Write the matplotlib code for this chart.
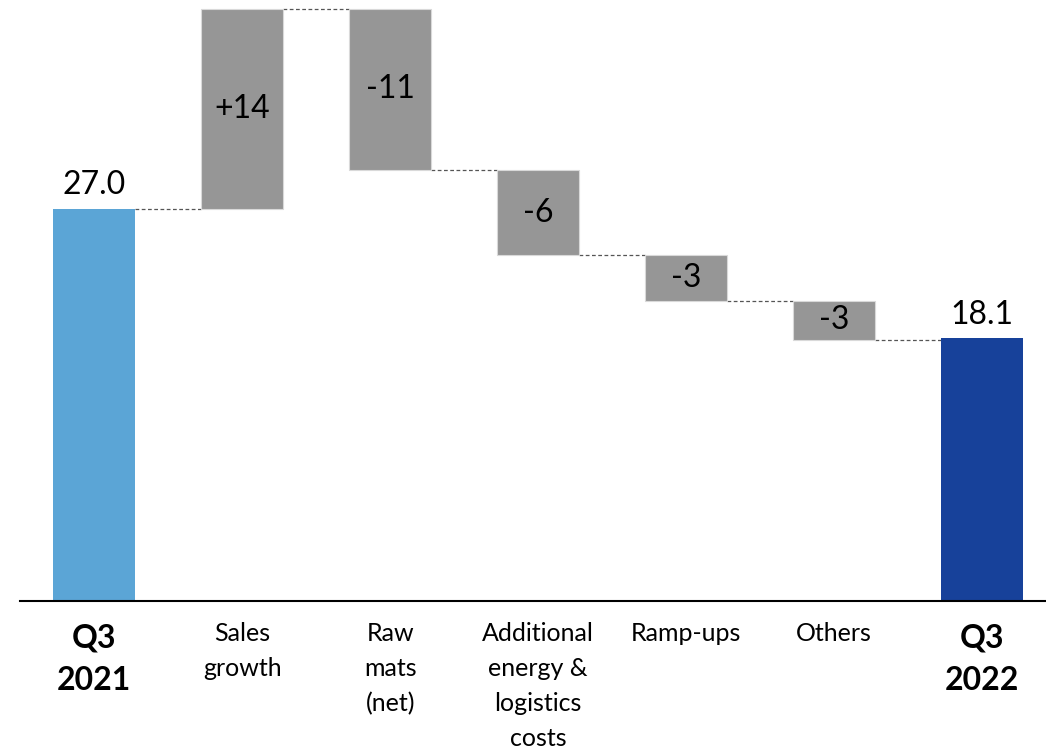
import matplotlib

matplotlib.use('Agg')

import numpy as np
import matplotlib.pyplot as plt
import matplotlib.transforms as mtransforms

# data
categories = ['Q3\n2021', 'Sales\ngrowth', 'Raw\nmats\n(net)', 'Additional\nenergy &\nlogistics\ncosts',
              'Ramp-ups', 'Others', 'Q3\n2022']
start_value = 27.0
deltas = [13.8, -11.1, -5.9, -3.1, -2.7]
end_value = 18.1
delta_labels = ['+14', '-11', '-6', '-3', '-3']
total_labels = ['27.0', '18.1']

plt.rcParams['font.family'] = ['Lato', 'DejaVu Sans']

fig = plt.figure(figsize=(10.46, 7.5), dpi=100)
ax = fig.add_axes([20 / 1046, 149 / 750, 1026 / 1046, 601 / 750])

x = np.arange(len(categories))
width = 0.555

# running levels
levels = [start_value]
for d in deltas:
    levels.append(levels[-1] + d)

# total bars
ax.bar(x[0], start_value, width, color='#5BA5D6', zorder=2)
ax.bar(x[-1], end_value, width, color='#17419A', zorder=2)

# floating bars
for i, d in enumerate(deltas):
    lo = min(levels[i], levels[i + 1])
    ax.bar(x[i + 1], abs(d), width, bottom=lo, color='#969696',
           edgecolor='#d9d9d9', linewidth=0.8, zorder=2)
    ax.text(x[i + 1], lo + abs(d) / 2, delta_labels[i], ha='center', va='center',
            fontsize=23, color='black', zorder=3)

# connectors between neighbouring bars
for i in range(len(categories) - 1):
    ax.plot([x[i] + width / 2, x[i + 1] - width / 2], [levels[i]] * 2,
            color='#555555', linestyle=(0, (3, 2)), linewidth=0.9, zorder=1)

# total labels
ax.text(x[0], start_value + 0.6, total_labels[0], ha='center', va='bottom', fontsize=23)
ax.text(x[-1], end_value + 0.6, total_labels[1], ha='center', va='bottom', fontsize=23)

# category labels under the axis
trans = mtransforms.blended_transform_factory(ax.transData, ax.transAxes)
for i, lab in enumerate(categories):
    if i in (0, len(categories) - 1):
        ax.text(x[i], -0.038, lab, transform=trans, ha='center', va='top',
                fontsize=23, fontweight='bold', linespacing=1.55)
    else:
        ax.text(x[i], -0.035, lab, transform=trans, ha='center', va='top',
                fontsize=18, linespacing=1.63)

ax.set_xlim(-0.5, 6.43)
ax.set_ylim(0, 41.4)
for s in ['top', 'right', 'left']:
    ax.spines[s].set_visible(False)
ax.spines['bottom'].set_linewidth(1.5)
ax.set_xticks([])
ax.set_yticks([])

plt.savefig('out.png', dpi=100)
plt.close()
